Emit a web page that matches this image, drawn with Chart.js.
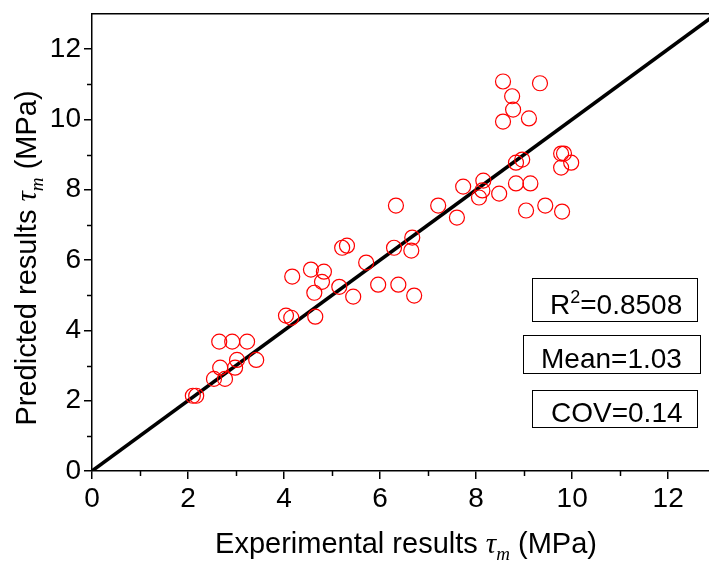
<!DOCTYPE html>
<html>
<head>
<meta charset="utf-8">
<script src="https://cdn.jsdelivr.net/npm/chart.js@4.4.1/dist/chart.umd.min.js"></script>
<style>
  body { margin: 0; background: #fff; }
  #wrap { width: 709px; height: 561px; }
</style>
</head>
<body>
<div id="wrap"><canvas id="scatterChart" width="709" height="561"></canvas></div>
<script>
// experimental vs predicted tau_m (MPa)
const experimental = [2.10, 2.17, 2.65, 2.92, 3.23, 3.42, 3.02, 2.67, 2.98, 2.54, 2.77,
    4.15, 4.04, 4.65, 4.17, 4.56, 4.83, 4.79, 4.63, 5.15, 5.44, 5.21, 5.31, 5.71,
    5.96, 6.38, 6.71, 6.29, 6.67, 6.65, 7.60, 6.33, 8.56, 9.33, 8.75, 8.77, 8.56,
    9.10, 8.83, 8.96, 9.77, 9.83, 9.98, 9.77, 7.73, 8.15, 8.13, 8.06, 8.48, 8.83,
    9.13, 7.21, 9.04, 9.44, 9.79];
const predicted = [2.14, 2.14, 3.68, 3.68, 3.68, 3.16, 3.16, 2.94, 2.94, 2.62, 2.62,
    4.36, 4.42, 4.39, 5.53, 5.73, 5.67, 5.38, 5.07, 5.24, 4.96, 6.35, 6.41, 5.93,
    5.30, 5.30, 4.99, 6.35, 6.64, 6.27, 7.21, 7.55, 11.08, 11.03, 10.66, 10.28, 9.94,
    10.03, 8.77, 8.86, 9.03, 9.03, 8.77, 8.63, 8.09, 8.26, 7.98, 7.78, 7.89, 8.18,
    8.18, 7.55, 7.41, 7.55, 7.38];
const lineX = [0, 13];   // y = x reference line
const xTicks = [0, 2, 4, 6, 8, 10, 12];
const yTicks = [0, 2, 4, 6, 8, 10, 12];
const xMinor = [1, 3, 5, 7, 9, 11];
const yMinor = [1, 3, 5, 7, 9, 11];
const stats = ['0.8508', '1.03', '0.14'];

const FONT = '"Liberation Sans", Arial, sans-serif';
const SERIF = '"Liberation Serif", "Times New Roman", serif';

function drawRuns(ctx, runs, x, y, align) {
    let total = 0;
    runs.forEach(r => { ctx.font = r.font; r.w = ctx.measureText(r.t).width; total += r.w; });
    let cx = align === 'center' ? x - total / 2 : x;
    ctx.textAlign = 'left';
    ctx.textBaseline = 'alphabetic';
    runs.forEach(r => {
        ctx.font = r.font;
        ctx.fillText(r.t, cx, y + (r.dy || 0));
        cx += r.w;
    });
}

const titleRuns = (label) => [
    { t: label + ' ', font: '29px ' + FONT },
    { t: 'τ', font: 'italic 29px ' + SERIF },
    { t: 'm', font: 'italic 19px ' + SERIF, dy: 7 },
    { t: ' (MPa)', font: '29px ' + FONT }
];

const extrasPlugin = {
    id: 'extras',
    afterDraw(chart) {
        const ctx = chart.ctx;
        const x = chart.scales.x, y = chart.scales.y;
        const area = chart.chartArea;
        ctx.save();
        ctx.strokeStyle = '#000';
        ctx.lineWidth = 1.5;
        // minor ticks
        xMinor.forEach(v => {
            const px = Math.round(x.getPixelForValue(v)) + 0.5;
            ctx.beginPath(); ctx.moveTo(px, area.bottom); ctx.lineTo(px, area.bottom + 5); ctx.stroke();
        });
        yMinor.forEach(v => {
            const py = Math.round(y.getPixelForValue(v)) + 0.5;
            ctx.beginPath(); ctx.moveTo(area.left - 5, py); ctx.lineTo(area.left, py); ctx.stroke();
        });
        ctx.fillStyle = '#000';
        // axis titles
        drawRuns(ctx, titleRuns('Experimental results'), 406, 553, 'center');
        ctx.save();
        ctx.translate(36, 258);
        ctx.rotate(-Math.PI / 2);
        drawRuns(ctx, titleRuns('Predicted results'), 0, 0, 'center');
        ctx.restore();
        // stat boxes
        ctx.lineWidth = 1;
        const boxes = [
            { r: [532, 278, 165, 43], tx: 550, ty: 314, runs: [
                { t: 'R', font: '28px ' + FONT },
                { t: '2', font: '18px ' + FONT, dy: -11 },
                { t: '=' + stats[0], font: '28px ' + FONT }] },
            { r: [523, 335, 177, 38], tx: 541, ty: 368, runs: [{ t: 'Mean=' + stats[1], font: '28px ' + FONT }] },
            { r: [532, 390, 165, 37], tx: 551, ty: 422, runs: [{ t: 'COV=' + stats[2], font: '28px ' + FONT }] }
        ];
        boxes.forEach(b => {
            ctx.strokeRect(b.r[0] + 0.5, b.r[1] + 0.5, b.r[2], b.r[3]);
            drawRuns(ctx, b.runs, b.tx, b.ty, 'left');
        });
        ctx.restore();
    }
};

const axisCommon = {
    type: 'linear',
    grid: { drawOnChartArea: false, tickLength: 8, color: '#000', lineWidth: 1.5 },
    border: { color: '#000', width: 1.5 },
    ticks: { color: '#000', font: { family: FONT, size: 28 }, padding: 3, maxRotation: 0, autoSkip: false }
};

const ctx = document.getElementById('scatterChart').getContext('2d');
const chart = new Chart(ctx, {
    type: 'scatter',
    data: {
        datasets: [{
            label: 'Predicted',
            data: experimental.map((v, i) => ({ x: v, y: predicted[i] })),
            pointStyle: 'circle',
            pointRadius: 7.5,
            pointBorderWidth: 1.2,
            pointBorderColor: '#ff0000',
            pointBackgroundColor: 'rgba(0,0,0,0)',
            order: 1
        }, {
            type: 'line',
            label: 'y = x',
            data: lineX.map(v => ({ x: v, y: v })),
            borderColor: '#000',
            borderWidth: 3.5,
            pointRadius: 0,
            order: 2
        }]
    },
    options: {
        responsive: false,
        animation: false,
        devicePixelRatio: 1,
        layout: { autoPadding: false, padding: { top: 14, right: 0, left: 0, bottom: 0 } },
        plugins: { legend: { display: false }, tooltip: { enabled: false } },
        scales: {
            x: Object.assign({}, axisCommon, {
                position: 'bottom', min: 0, max: 12.85,
                afterBuildTicks: s => { s.ticks = xTicks.map(v => ({ value: v })); },
                afterFit: s => { s.height = 90; s.paddingLeft = 0; s.paddingRight = 0; }
            }),
            xTop: {
                type: 'linear', position: 'top', min: 0, max: 12.85,
                grid: { drawOnChartArea: false, drawTicks: false },
                border: { color: '#000', width: 1.5 },
                ticks: { display: false },
                afterFit: s => { s.height = 0; s.paddingLeft = 0; s.paddingRight = 0; }
            },
            y: Object.assign({}, axisCommon, {
                position: 'left', min: 0, max: 13,
                afterBuildTicks: s => { s.ticks = yTicks.map(v => ({ value: v })); },
                afterFit: s => { s.width = 92; s.paddingTop = 0; s.paddingBottom = 0; }
            })
        }
    },
    plugins: [extrasPlugin]
});
</script>
</body>
</html>
